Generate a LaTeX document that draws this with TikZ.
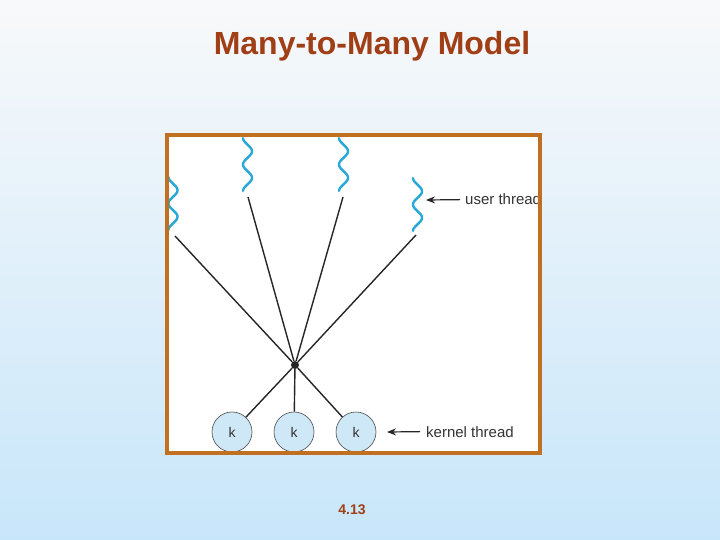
\documentclass[tikz,border=0pt]{standalone}
\usepackage{fontspec}
\setmainfont{Liberation Sans}
\usetikzlibrary{arrows.meta}
\definecolor{bgtop}{RGB}{248,249,250}
\definecolor{bgbottom}{RGB}{200,230,250}
\definecolor{framebrown}{RGB}{192,112,32}
\definecolor{titlebrown}{RGB}{160,62,22}
\definecolor{threadblue}{RGB}{40,168,214}
\definecolor{kfill}{RGB}{207,232,247}
\tikzset{
  uthread/.style={threadblue, line width=2.4pt, line cap=round, line join=round},
  kthread/.style={circle, draw=black!70, line width=0.6pt, fill=kfill,
    minimum size=40pt, inner sep=0pt, text=black!80,
    font=\fontsize{14}{16}\selectfont},
  link/.style={black!85, line width=1.4pt},
  pointer/.style={black!85, line width=1.2pt, -{Stealth[length=9pt,width=7pt]}},
  lbl/.style={text=black!80, font=\fontsize{15}{18}\selectfont, inner sep=0pt},
}
\begin{document}
\begin{tikzpicture}[x=1pt,y=-1pt]
    \shade[top color=bgtop, bottom color=bgbottom] (0,0) rectangle (720,540);
    \node[text=titlebrown, font=\bfseries\fontsize{32}{36}\selectfont, anchor=base] (title) at (372,55) {Many-to-Many Model};
    \node[text=titlebrown, font=\bfseries\fontsize{14}{16}\selectfont, anchor=base] (page) at (352,514) {4.13};
    \fill[white] (167,135) rectangle (540,453);
    \begin{scope}
      \clip (167,135) rectangle (540,453);
      \foreach [count=\i] \cx/\ya/\lx/\ly in {173/177/175/236, 247.5/138/248/197, 343.5/138/343/197, 417.5/178/416/235} {
        \draw[uthread] plot[variable=\t, domain=0:53, samples=60] ({\cx-4.5*cos(13.585*\t)}, {\ya+\t});
        \coordinate (u\i) at (\lx,\ly);
      }
      \node[circle, fill=black!85, inner sep=0pt, minimum size=8pt] (hub) at (295,365) {};
      \foreach \i in {1,...,4} {
        \draw[link] (u\i) -- (hub);
      }
      \foreach [count=\i] \x in {232,294,356} {
        \node[kthread] (k\i) at (\x,432) {k};
        \draw[link] (hub) -- (k\i);
      }
      \node[lbl, anchor=base west] (ulabel) at (465,205) {user thread};
      \coordinate (utip) at (426,200);
      \draw[pointer] ([xshift=-5pt]ulabel.west) -- (utip);
      \node[lbl, anchor=base west] (klabel) at (426,437) {kernel thread};
      \coordinate (ktip) at (387,432);
      \draw[pointer] ([xshift=-6pt]klabel.west) -- (ktip);
    \end{scope}
    \draw[framebrown, line width=3.5pt] (167,135) rectangle (540,453);
  \end{tikzpicture}
\end{document}
